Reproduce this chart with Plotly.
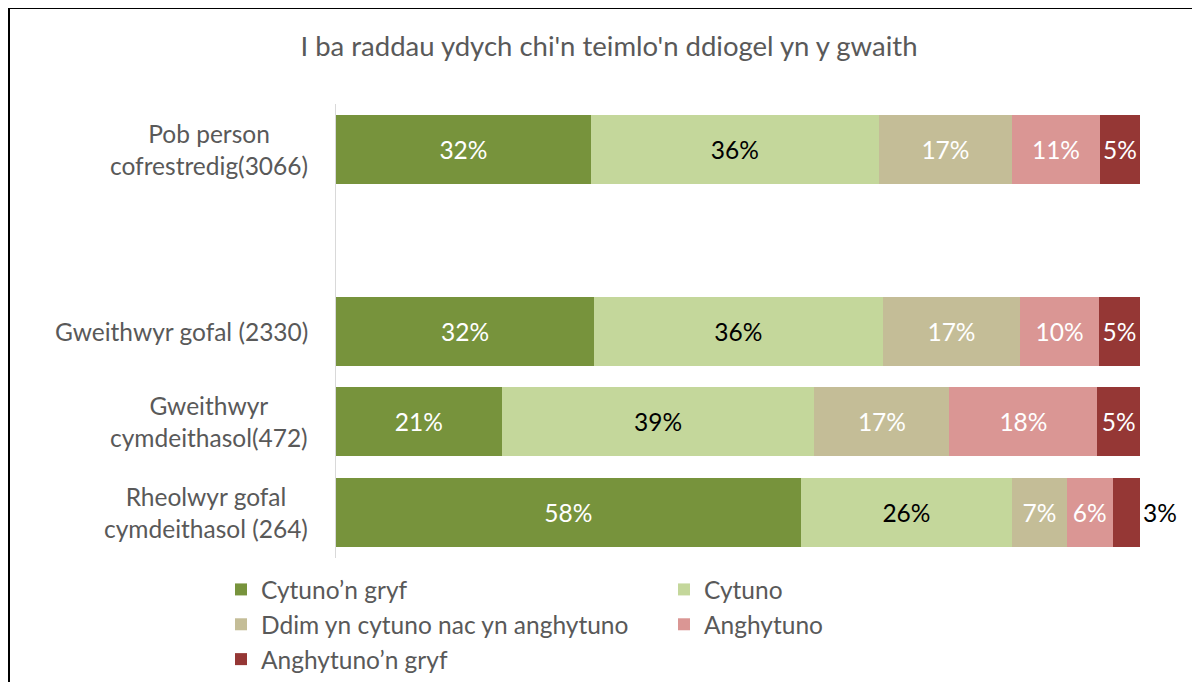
import plotly.graph_objects as go

categories = ["Pob person<br>cofrestredig(3066)", " ", "Gweithwyr gofal (2330)",
              "Gweithwyr<br>cymdeithasol(472)", "Rheolwyr gofal<br>cymdeithasol (264)"]
bar_categories = [categories[0], categories[2], categories[3], categories[4]]

series_names = ["Cytuno’n gryf", "Cytuno", "Ddim yn cytuno nac yn anghytuno",
                "Anghytuno", "Anghytuno’n gryf"]
cytuno_n_gryf = [31.7, 32.1, 20.6, 57.8]
cytuno = [35.8, 35.9, 38.9, 26.3]
ddim = [16.6, 17.1, 16.8, 6.8]
anghytuno = [10.9, 9.8, 18.4, 5.7]
anghytuno_n_gryf = [5.0, 5.1, 5.3, 3.4]

title_text = "I ba raddau ydych chi'n teimlo'n ddiogel yn y gwaith"

colors = ["#77933C", "#C4D79B", "#C4BD97", "#DA9694", "#953735"]
label_colors = ["white", "black", "white", "white", "white"]
series_values = [cytuno_n_gryf, cytuno, ddim, anghytuno, anghytuno_n_gryf]

FONT = "Lato, 'Open Sans', sans-serif"
LBL = 24.5

fig = go.Figure()
for i, (name, vals) in enumerate(zip(series_names, series_values)):
    tpos = ["inside", "inside", "inside", "outside"] if i == 4 else "inside"
    fig.add_trace(go.Bar(
        y=bar_categories, x=vals, name=name, orientation="h",
        marker=dict(color=colors[i], line=dict(width=0)),
        texttemplate="%{x:.0f}%", textposition=tpos,
        insidetextanchor="middle",
        insidetextfont=dict(color=label_colors[i], size=LBL, family=FONT),
        outsidetextfont=dict(color="black", size=LBL, family=FONT),
        cliponaxis=False, hoverinfo="skip",
    ))

W, H = 1200, 682
L, T = 328, 96
PW, PH = 804, 454
R, B = W - L - PW, H - T - PH

def px(x):
    return (x - L) / PW

def py(y):
    return 1 - (y - T) / PH

annotations = []
for c in bar_categories:
    annotations.append(dict(
        x=px(302), xref="paper", y=c, yref="y", text=c, showarrow=False,
        xanchor="right", yanchor="middle", align="center",
        font=dict(size=LBL, color="#595959", family=FONT)))

fig.update_layout(
    width=W, height=H,
    margin=dict(l=L, r=R, t=T, b=B, autoexpand=False),
    paper_bgcolor="white", plot_bgcolor="white",
    barmode="stack", bargap=0.24,
    uniformtext=dict(minsize=20, mode="show"),
    title=dict(text=title_text, x=px(601), xref="paper", xanchor="center",
               y=1 - 38 / H, yanchor="middle", yref="container",
               font=dict(size=27.5, color="#595959", family=FONT)),
    xaxis=dict(range=[0, 100], visible=False, fixedrange=True),
    yaxis=dict(categoryorder="array", categoryarray=categories, autorange="reversed",
               showticklabels=False, showgrid=False, zeroline=False,
               showline=True, linecolor="#D9D9D9", linewidth=1, ticks=""),
    legend=dict(orientation="h", xref="paper", yref="paper",
                x=px(213), xanchor="left", y=py(559), yanchor="top",
                entrywidth=398, entrywidthmode="pixels", traceorder="normal",
                font=dict(size=LBL, color="#595959", family=FONT),
                itemclick=False),
    annotations=annotations,
    shapes=[
        dict(type="line", xref="paper", yref="paper", x0=px(0), x1=px(1210),
             y0=py(0), y1=py(0), line=dict(color="black", width=2)),
        dict(type="line", xref="paper", yref="paper", x0=px(1), x1=px(1),
             y0=py(0), y1=py(700), line=dict(color="black", width=2)),
    ],
)

fig.write_html("out.html")
